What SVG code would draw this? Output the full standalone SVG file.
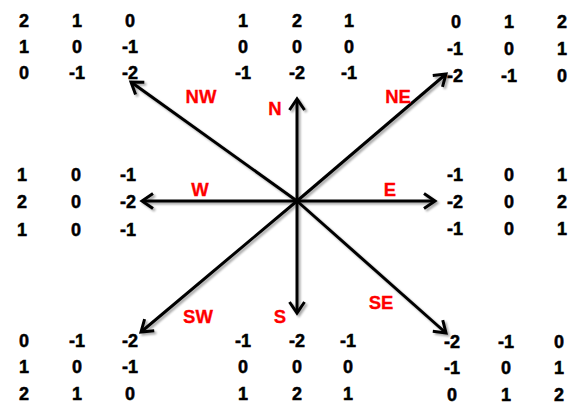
<svg xmlns="http://www.w3.org/2000/svg" width="574" height="405" viewBox="0 0 574 405">
<style>
.n{font-family:"Liberation Sans",Arial,sans-serif;font-weight:bold;font-size:18px;fill:#000;stroke:#000;stroke-width:0.5;text-anchor:middle}
.l{font-family:"Liberation Sans",Arial,sans-serif;font-weight:bold;font-size:18.5px;fill:#ff0000;stroke:#ff0000;stroke-width:0.3;text-anchor:middle}
.a{stroke:#000;stroke-width:3;fill:none;marker-end:url(#ah)}
</style>
<defs>
<marker id="ah" markerUnits="userSpaceOnUse" markerWidth="30" markerHeight="30" refX="0" refY="0" viewBox="-15 -15 30 30" orient="auto" overflow="visible">
<path d="M-11,-7.5 L0,0 L-11,7.5" stroke="#000" stroke-width="3" fill="none" stroke-linejoin="miter"/>
</marker>
<filter id="sh" x="-10%" y="-10%" width="120%" height="120%">
<feGaussianBlur in="SourceAlpha" stdDeviation="1.2"/>
<feOffset dx="1.5" dy="1.5" result="b"/>
<feComponentTransfer><feFuncA type="linear" slope="0.35"/></feComponentTransfer>
<feMerge><feMergeNode/><feMergeNode in="SourceGraphic"/></feMerge>
</filter>
</defs>
<g id="connectors" filter="url(#sh)">
<line class="a" x1="297" y1="201" x2="131" y2="82"/>
<line class="a" x1="297" y1="201" x2="297" y2="99"/>
<line class="a" x1="297" y1="201" x2="446" y2="74"/>
<line class="a" x1="297" y1="201" x2="142" y2="201"/>
<line class="a" x1="297" y1="201" x2="435" y2="201"/>
<line class="a" x1="297" y1="201" x2="141" y2="332"/>
<line class="a" x1="297" y1="201" x2="297" y2="313"/>
<line class="a" x1="297" y1="201" x2="446" y2="333"/>
</g>
<g id="labels">
<text class="l" x="201" y="103">NW</text>
<text class="l" x="275" y="115">N</text>
<text class="l" x="398" y="103">NE</text>
<text class="l" x="200" y="196">W</text>
<text class="l" x="390" y="196">E</text>
<text class="l" x="198" y="323">SW</text>
<text class="l" x="280" y="323">S</text>
<text class="l" x="381" y="309">SE</text>
</g>
<g id="nw-kernel">
<text class="n" x="24" y="27">2</text><text class="n" x="77" y="27">1</text><text class="n" x="130" y="27">0</text>
<text class="n" x="24" y="53">1</text><text class="n" x="77" y="53">0</text><text class="n" x="130" y="53">-1</text>
<text class="n" x="24" y="79">0</text><text class="n" x="77" y="79">-1</text><text class="n" x="130" y="79">-2</text>
</g>
<g id="n-kernel">
<text class="n" x="243" y="27">1</text><text class="n" x="297" y="27">2</text><text class="n" x="349" y="27">1</text>
<text class="n" x="243" y="53">0</text><text class="n" x="297" y="53">0</text><text class="n" x="349" y="53">0</text>
<text class="n" x="243" y="79">-1</text><text class="n" x="297" y="79">-2</text><text class="n" x="349" y="79">-1</text>
</g>
<g id="ne-kernel">
<text class="n" x="456" y="28">0</text><text class="n" x="509" y="28">1</text><text class="n" x="562" y="28">2</text>
<text class="n" x="455" y="55">-1</text><text class="n" x="509" y="55">0</text><text class="n" x="562" y="55">1</text>
<text class="n" x="455" y="82">-2</text><text class="n" x="509" y="82">-1</text><text class="n" x="562" y="82">0</text>
</g>
<g id="w-kernel">
<text class="n" x="22" y="181">1</text><text class="n" x="76" y="181">0</text><text class="n" x="128" y="181">-1</text>
<text class="n" x="22" y="208">2</text><text class="n" x="76" y="208">0</text><text class="n" x="128" y="208">-2</text>
<text class="n" x="22" y="236">1</text><text class="n" x="76" y="236">0</text><text class="n" x="128" y="236">-1</text>
</g>
<g id="e-kernel">
<text class="n" x="455" y="181">-1</text><text class="n" x="509" y="181">0</text><text class="n" x="562" y="181">1</text>
<text class="n" x="455" y="208">-2</text><text class="n" x="509" y="208">0</text><text class="n" x="562" y="208">2</text>
<text class="n" x="455" y="235">-1</text><text class="n" x="509" y="235">0</text><text class="n" x="562" y="235">1</text>
</g>
<g id="sw-kernel">
<text class="n" x="24" y="347">0</text><text class="n" x="77" y="347">-1</text><text class="n" x="130" y="347">-2</text>
<text class="n" x="24" y="373">1</text><text class="n" x="77" y="373">0</text><text class="n" x="130" y="373">-1</text>
<text class="n" x="24" y="400">2</text><text class="n" x="77" y="400">1</text><text class="n" x="130" y="400">0</text>
</g>
<g id="s-kernel">
<text class="n" x="243" y="347">-1</text><text class="n" x="297" y="347">-2</text><text class="n" x="348" y="347">-1</text>
<text class="n" x="243" y="373">0</text><text class="n" x="297" y="373">0</text><text class="n" x="348" y="373">0</text>
<text class="n" x="243" y="400">1</text><text class="n" x="297" y="400">2</text><text class="n" x="348" y="400">1</text>
</g>
<g id="se-kernel">
<text class="n" x="452" y="348">-2</text><text class="n" x="506" y="348">-1</text><text class="n" x="559" y="348">0</text>
<text class="n" x="452" y="374">-1</text><text class="n" x="506" y="374">0</text><text class="n" x="559" y="374">1</text>
<text class="n" x="452" y="401">0</text><text class="n" x="506" y="401">1</text><text class="n" x="559" y="401">2</text>
</g>
</svg>
